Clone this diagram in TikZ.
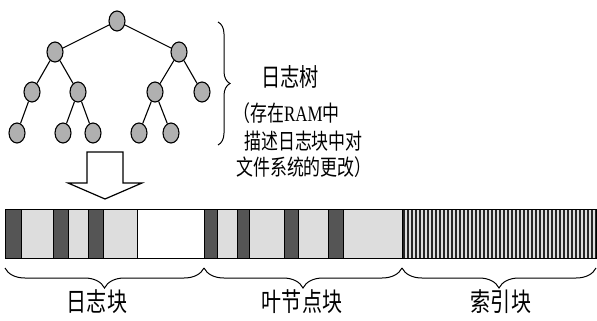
\documentclass[tikz,border=0pt]{standalone}
\usepackage{fontspec}
\setmainfont{Liberation Serif}
\newfontfamily\cjk[FakeStretch=0.77]{Noto Sans CJK SC}
\newfontfamily\latn[FakeStretch=0.77]{Liberation Serif}
\usetikzlibrary{decorations.pathreplacing,shapes.geometric}
\definecolor{dk}{RGB}{85,85,85}
\definecolor{lt}{RGB}{221,221,221}
\definecolor{nd}{RGB}{176,176,176}
\begin{document}
\begin{tikzpicture}[x=1pt,y=-1pt,
  tn/.style={draw, ellipse, fill=nd, minimum width=16pt, minimum height=20pt, inner sep=0pt, line width=1.1pt},
  edge/.style={line width=1.1pt},
  seg/.style={draw=black, line width=0.8pt},
  bracedown/.style={decorate, decoration={brace, mirror, amplitude=20pt}, line width=1pt},
  bigtxt/.style={font=\cjk\fontsize{26}{26}\selectfont, inner sep=0pt},
  midtxt/.style={font=\cjk\fontsize{25}{25}\selectfont, inner sep=0pt},
  smtxt/.style={font=\cjk\fontsize{22}{22}\selectfont, inner sep=0pt, anchor=west}]
\useasboundingbox (0,0) rectangle (597,321);
% tree
\node[tn] (r) at (117,21) {};
\node[tn] (a) at (55,52) {};
\node[tn] (b) at (179,52) {};
\node[tn] (a1) at (32,92) {};
\node[tn] (a2) at (78,92) {};
\node[tn] (b1) at (155,92) {};
\node[tn] (b2) at (202,92) {};
\node[tn] (a11) at (17,133) {};
\node[tn] (a21) at (63,133) {};
\node[tn] (a22) at (93,133) {};
\node[tn] (b11) at (139,133) {};
\node[tn] (b12) at (171,133) {};
\draw[edge] (r) -- (a);
\draw[edge] (r) -- (b);
\draw[edge] (a) -- (a1);
\draw[edge] (a) -- (a2);
\draw[edge] (b) -- (b1);
\draw[edge] (b) -- (b2);
\draw[edge] (a1) -- (a11);
\draw[edge] (a2) -- (a21);
\draw[edge] (a2) -- (a22);
\draw[edge] (b1) -- (b11);
\draw[edge] (b1) -- (b12);
% right brace and text
\coordinate (bt) at (218,22);
\coordinate (bb) at (218,145);
\draw[decorate, decoration={brace, amplitude=12pt}, line width=1pt] (bt) -- (bb);
\node[midtxt] (t1) at (290,77) {日志树};
\node[smtxt] (t2) at (233,113) {（存在{\latn RAM}中};
\node[smtxt] (t3) at (244,141) {描述日志块中对};
\node[smtxt] (t4) at (236,167) {文件系统的更改）};
% arrow
\draw[line width=1.2pt, fill=white] (87,152) -- (123,152) -- (123,183) -- (142,183) -- (105,199) -- (68,183) -- (87,183) -- cycle;
% bar
\foreach \a/\b/\c in {5/21/dk,21/53/lt,53/68/dk,68/88/lt,88/103/dk,103/137/lt,137/204/white,204/217/dk,217/237/lt,237/249/dk,249/284/lt,284/298/dk,298/328/lt,328/343/dk,343/402/lt}
  \draw[seg, fill=\c] (\a,209) rectangle (\b,258);
\fill[lt] (402,209) rectangle (596,258);
\foreach \x in {404,408,...,596}
  \draw[line width=1.5pt, black!85] (\x,209) -- (\x,258);
\draw[seg] (402,209) rectangle (596,258);
% bottom braces
\coordinate (p0) at (5,268);
\coordinate (p1) at (204,268);
\coordinate (p2) at (402,268);
\coordinate (p3) at (596,268);
\draw[bracedown] (p0) -- (p1);
\draw[bracedown] (p1) -- (p2);
\draw[bracedown] (p2) -- (p3);
\node[bigtxt] (l1) at (97,302) {日志块};
\node[bigtxt] (l2) at (302,302) {叶节点块};
\node[bigtxt] (l3) at (501,302) {索引块};
\end{tikzpicture}
\end{document}
